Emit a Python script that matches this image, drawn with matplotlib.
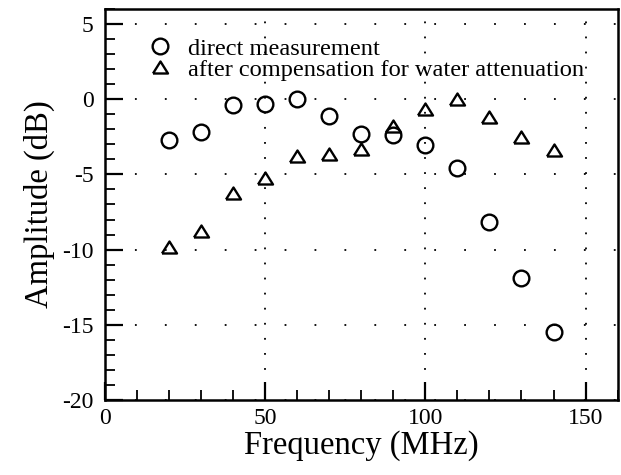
import matplotlib
matplotlib.use("Agg")
import matplotlib.pyplot as plt
from matplotlib.ticker import MultipleLocator

plt.rcParams['lines.scale_dashes'] = False
plt.rcParams['axes.unicode_minus'] = False
plt.rcParams['font.family'] = ['Liberation Serif', 'DejaVu Serif']

freq = [20, 30, 40, 50, 60, 70, 80, 90, 100, 110, 120, 130, 140]
direct = [-2.72, -2.21, -0.4, -0.33, 0.0, -1.1, -2.28, -2.39, -3.05, -4.6, -8.14, -11.9, -15.48]
compensated = [-9.8, -8.76, -6.24, -5.26, -3.78, -3.65, -3.32, -1.77, -0.62, 0.0, -1.17, -2.5, -3.38]
labels = ["direct measurement", "after compensation for water attenuation"]

tri = [(-1.0, -0.8), (1.0, -0.8), (0.0, 0.8), (-1.0, -0.8)]

fig = plt.figure(figsize=(6.21, 4.75), dpi=100)
ax = fig.add_axes([0.1683, 0.158, 0.8264, 0.823])

ax.plot(freq, direct, linestyle='none', marker='o', markersize=11.3,
        markerfacecolor='none', markeredgecolor='black', markeredgewidth=1.7,
        label=labels[0])
ax.plot(freq, compensated, linestyle='none', marker=tri, markersize=10.8,
        markerfacecolor='none', markeredgecolor='black', markeredgewidth=1.7,
        label=labels[1])

ax.set_xlim(0, 160)
ax.set_ylim(-20, 6)
ax.xaxis.set_major_locator(MultipleLocator(50))
ax.xaxis.set_minor_locator(MultipleLocator(10))
ax.yaxis.set_major_locator(MultipleLocator(5))
ax.yaxis.set_minor_locator(MultipleLocator(1))

ax.grid(True, axis='x', which='major', color='black', linewidth=1.3,
        linestyle=(0, (1.3, 9.55)))
ax.grid(True, axis='y', which='major', color='black', linewidth=1.3,
        linestyle=(0, (1.3, 20.25)))

for s in ax.spines.values():
    s.set_linewidth(1.8)

ax.tick_params(which='major', direction='in', length=13, width=1.6,
               labelsize=17, top=False, right=False)
ax.tick_params(which='minor', direction='in', length=7, width=1.3,
               top=False, right=False)
ax.tick_params(axis='y', which='major', pad=8)
ax.tick_params(axis='x', which='major', pad=6)

ax.set_xlabel("Frequency (MHz)", fontsize=23.5, labelpad=1)
ax.set_ylabel("Amplitude (dB)", fontsize=23.5, labelpad=5)

ax.legend(loc='upper left', bbox_to_anchor=(0.05, 0.97), frameon=False,
          fontsize=17.6, handlelength=1.0, handletextpad=0.68,
          labelspacing=-0.05, borderpad=0.2)

fig.savefig("out.png", dpi=100)
